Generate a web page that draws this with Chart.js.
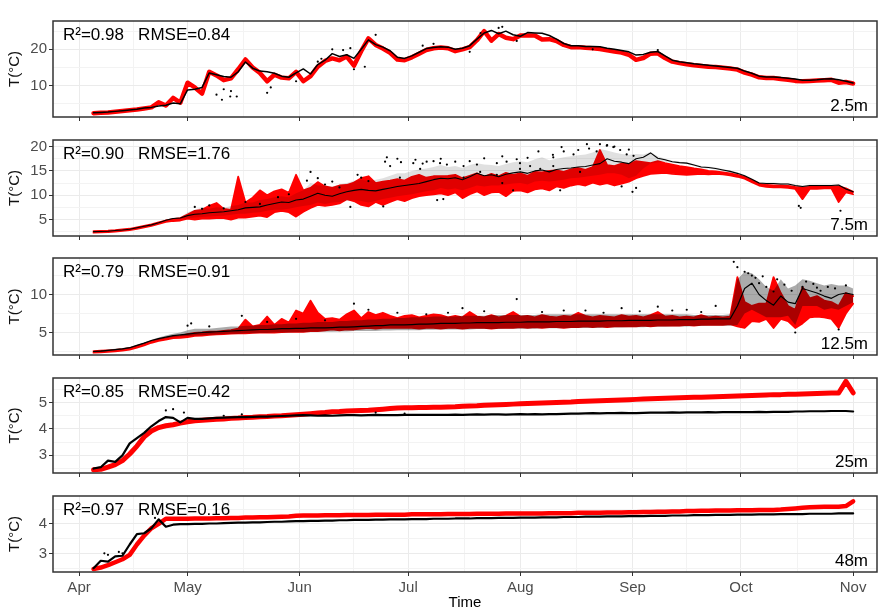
<!DOCTYPE html>
<html><head><meta charset="utf-8">
<script src="https://cdn.jsdelivr.net/npm/chart.js@4.4.1/dist/chart.umd.min.js"></script>
<style>
html,body{margin:0;padding:0;background:#fff;}
#wrap{position:relative;width:879px;height:610px;overflow:hidden;background:#fff;}
canvas{position:absolute;left:0;}
</style></head><body><div id="wrap"></div>
<script>
// x positions: day of season (0 = 1 Apr)
const sampleDays = [4,6,8,10,12,14,16,18,20,22,
  24,26,28,30,32,34,36,38,40,42,
  44,46,48,50,52,54,56,58,60,62,
  64,66,68,70,72,74,76,78,80,82,
  84,86,88,90,92,94,96,98,100,102,
  104,106,108,110,112,114,116,118,120,122,
  124,126,128,130,132,134,136,138,140,142,
  144,146,148,150,152,154,156,158,160,162,
  164,166,168,170,172,174,176,178,180,182,
  184,186,188,190,192,194,196,198,200,202,
  204,206,208,210,212,214];
const monthDays = [0,30,61,91,122,153,183,214];
const monthLabels = ['Apr','May','Jun','Jul','Aug','Sep','Oct','Nov'];
const depthLabels = ['2.5m','7.5m','12.5m','25m','48m'];
const statLabels = ['R²=0.98   RMSE=0.84','R²=0.90   RMSE=1.76','R²=0.79   RMSE=0.91','R²=0.85   RMSE=0.42','R²=0.97   RMSE=0.16'];

// ---- 2.5 m
const p1Obs = [2.5,2.6,2.7,2.9,3.1,3.3,3.5,3.8,4.0,4.4,
  4.6,5.2,5.0,8.8,9.0,9.5,13.5,13.0,12.5,12.3,
  13.8,16.5,14.8,14.0,13.8,13.4,12.6,12.3,13.5,14.6,
  13.2,15.8,17.0,18.8,18.0,18.5,17.5,20.0,22.6,21.3,
  20.6,19.6,17.8,17.5,18.2,19.2,20.2,20.5,20.7,20.6,
  20.0,20.3,21.0,22.8,24.5,25.2,24.3,25.0,24.0,23.6,
  24.6,24.5,24.4,23.8,22.8,21.6,21.0,21.0,20.8,20.8,
  20.7,20.3,20.0,19.7,19.3,18.4,18.6,19.2,19.4,18.2,
  17.0,16.6,16.3,16.0,15.8,15.6,15.4,15.2,15.0,14.8,
  14.0,13.4,12.6,12.4,12.4,12.2,12.0,11.8,11.5,11.5,
  11.6,11.8,11.9,11.6,11.2,10.7];
const p1Mod = [2.4,2.5,2.6,2.8,3.0,3.2,3.4,3.7,4.0,5.4,
  4.5,6.6,5.3,10.8,9.5,7.8,13.8,12.8,11.5,12.0,
  14.5,17.2,15.0,13.5,11.2,13.0,12.2,12.0,13.8,11.2,
  12.6,15.2,16.8,17.5,17.0,18.0,15.5,19.5,23.0,21.2,
  20.2,19.0,17.2,17.0,17.8,18.8,19.8,20.3,20.5,20.3,
  19.5,20.0,20.6,22.5,25.0,22.4,24.2,23.2,22.8,23.8,
  23.8,23.8,22.7,22.8,22.3,21.2,20.6,20.6,20.4,20.3,
  20.1,19.7,19.4,19.1,18.5,17.1,17.6,18.8,18.9,17.6,
  16.6,16.2,15.9,15.6,15.4,15.2,15.1,14.9,14.7,14.4,
  13.6,13.0,12.3,12.1,12.1,11.8,11.6,11.3,11.2,11.3,
  11.4,11.5,11.6,10.8,11.0,10.6];
const p1Dots = [[38,7.5],[39.5,6.1],[40,9.0],[41.8,7.0],[42,8.5],[43.6,7.0],[52,8.0],[53,9.5],[60,11.2],[66,16.6],[67,17.4],[70,20.0],[73,19.8],[75,20.3],[76,14.5],[79,15.2],[82,24.0],[95,21.0],[98,21.5],[108,19.3],[111,24.5],[116,25.9],[117,26.2],[121,22.3],[142,20.0],[160,19.8]];

// ---- 7.5 m
const p2Obs = [2.5,2.55,2.6,2.75,2.85,3.0,3.3,3.6,3.9,4.35,
  4.85,5.2,5.3,5.8,6.1,6.2,6.4,6.5,6.6,6.8,
  7.0,7.4,7.5,7.6,8.0,8.3,8.6,8.5,9.0,9.2,
  9.8,10.4,10.0,9.8,10.3,10.7,11.0,11.2,11.0,10.9,
  11.2,11.5,11.8,12.0,12.2,12.4,12.8,13.2,13.5,13.4,
  13.6,13.2,13.8,14.5,14.0,14.2,13.8,14.3,14.6,14.8,
  14.5,15.0,15.2,14.8,15.3,15.5,15.6,15.8,15.9,16.2,
  16.5,17.5,17.0,16.8,16.5,17.5,17.8,18.7,17.6,17.3,
  16.9,16.7,16.6,16.2,15.8,15.7,15.5,15.2,14.9,14.5,
  14.0,13.3,12.5,12.4,12.4,12.3,12.3,12.0,11.8,12.0,
  12.0,12.0,12.0,12.1,11.3,10.7];
const p2ObsHi = [2.65,2.7,2.75,2.9,3.0,3.15,3.45,3.75,4.05,4.5,
  5.0,5.35,5.45,6.5,7.0,7.5,7.2,7.5,7.4,7.8,
  8.0,8.5,8.5,9.0,9.2,9.6,9.8,9.6,10.4,11.0,
  12.5,12.0,12.0,11.8,12.2,12.5,13.0,13.2,13.0,13.2,
  13.5,14.0,14.5,14.5,15.0,15.3,15.5,15.8,16.2,15.8,
  16.0,15.6,16.2,16.6,16.3,16.2,16.0,16.4,16.8,17.0,
  16.8,17.4,17.8,17.2,17.5,17.8,18.0,18.2,18.4,18.8,
  19.5,19.2,18.8,18.5,18.3,18.5,18.4,18.9,18.0,17.5,
  17.1,16.9,16.8,16.4,16.0,15.9,15.7,15.4,15.1,14.7,
  14.2,13.5,12.7,12.6,12.6,12.5,12.5,12.2,12.0,12.2,
  12.2,12.2,12.2,12.3,11.5,10.9];
const p2ObsLo = [2.35,2.4,2.45,2.6,2.7,2.85,3.15,3.45,3.75,4.2,
  4.7,5.05,5.15,5.2,5.4,5.5,5.6,5.7,5.8,6.0,
  6.2,6.2,6.4,6.5,6.8,7.0,7.0,7.2,7.5,7.8,
  8.0,8.5,8.2,8.5,8.6,8.8,9.0,8.8,8.5,8.8,
  9.2,9.5,9.8,10.0,10.2,10.5,10.8,11.0,11.5,11.2,
  11.4,11.0,11.5,12.0,11.8,12.0,12.0,12.2,12.4,12.5,
  12.2,12.8,13.0,12.8,13.0,13.2,13.5,13.6,13.8,14.0,
  14.2,14.5,14.5,14.2,13.5,14.0,15.5,16.5,16.8,16.9,
  16.7,16.5,16.4,16.0,15.6,15.5,15.3,15.0,14.7,14.3,
  13.8,13.1,12.3,12.2,12.2,12.1,12.1,11.8,11.6,11.8,
  11.8,11.8,11.8,11.9,11.1,10.5];
const p2ModHi = [2.6,2.65,2.7,2.8,2.95,3.1,3.4,3.7,4.0,4.4,
  4.8,5.1,5.3,6.0,6.8,7.0,7.8,8.4,7.2,7.0,
  13.8,8.5,9.5,11.0,10.0,10.8,11.2,10.5,14.2,11.0,
  11.5,12.7,11.8,11.5,12.0,12.1,12.6,13.5,13.9,12.5,
  12.8,13.0,13.3,13.0,13.8,14.2,13.6,13.9,13.9,14.0,
  14.2,13.5,14.0,14.5,13.8,14.4,13.9,14.6,14.2,14.5,
  14.0,14.8,14.7,15.0,15.1,14.8,15.3,15.6,15.2,15.8,
  19.3,16.2,16.0,16.5,16.4,17.0,16.8,16.6,17.0,16.6,
  16.3,16.0,15.8,15.5,15.3,15.0,14.9,14.7,14.5,14.2,
  13.8,13.1,12.4,12.1,12.0,12.0,11.9,11.7,11.6,11.7,
  11.7,11.8,11.8,11.8,11.4,10.7];
const p2ModLo = [2.3,2.35,2.4,2.5,2.65,2.8,3.1,3.4,3.7,4.1,
  4.5,4.7,4.8,5.2,5.0,5.2,5.2,5.3,5.3,5.0,
  5.4,5.4,5.6,5.8,5.5,6.5,6.8,6.5,5.6,6.6,
  7.4,8.0,7.8,8.0,8.3,9.2,8.8,8.0,7.7,8.6,
  8.0,8.6,9.2,8.8,9.4,9.8,10.0,10.2,10.4,10.0,
  10.6,9.4,10.2,10.8,10.0,10.6,10.7,9.8,10.9,11.0,
  10.6,11.2,11.4,11.0,11.8,11.5,12.0,12.3,12.0,12.6,
  12.2,12.5,12.0,12.4,12.8,13.5,14.0,14.4,14.5,14.6,
  14.4,14.3,14.2,14.3,14.4,14.3,14.4,14.3,14.1,13.8,
  13.4,12.7,12.0,11.7,11.6,11.6,11.5,11.3,9.2,11.3,
  11.3,11.4,11.4,8.6,10.6,10.2];
const p2Dots = [[32,7.6],[34,7.2],[36,7.9],[40,7.3],[46,8.6],[50,8.2],[55,9.6],[58,10.2],[63,13.0],[64,14.8],[66,13.5],[68,12.2],[70,12.8],[72,11.6],[75,7.6],[77,14.2],[78,13.6],[80,12.9],[84.1,7.7],[84.6,16.9],[85.1,17.8],[86,16.0],[88,17.5],[88.7,13.6],[89,16.8],[92.4,16.6],[93,17.3],[94.3,15.4],[95,16.5],[96.1,16.9],[98,17.0],[99,9.0],[99.8,16.6],[100,17.5],[100.7,9.2],[101.7,16.3],[104,16.9],[106.3,16.0],[106.3,13.6],[108,17.0],[110,16.3],[110.9,14.8],[112,17.6],[115.5,16.6],[115.5,14.2],[117,18.0],[117,12.5],[118.2,16.9],[120,11.0],[121,17.4],[121.9,16.6],[121.9,15.4],[124,17.7],[124.7,16.0],[127,19.0],[127.5,15.4],[131,18.3],[131.1,17.8],[131.1,16.0],[133,11.0],[133.4,19.9],[134,19.0],[136.7,18.4],[138,19.3],[138.5,14.8],[140.4,20.5],[141,19.6],[143.1,19.0],[144,20.5],[145.9,20.2],[146,20.3],[147.7,19.9],[148,20.0],[149.6,19.3],[150,11.8],[151.4,18.4],[152,19.4],[153,10.7],[153.3,18.1],[154,11.5],[199,7.8],[199.5,7.4],[210.5,6.8]];

// ---- 12.5 m
const p3Obs = [2.5,2.55,2.65,2.75,2.85,3.0,3.3,3.6,3.95,4.2,
  4.4,4.6,4.7,4.8,4.9,5.0,5.05,5.1,5.15,5.2,
  5.25,5.3,5.35,5.4,5.4,5.45,5.5,5.5,5.55,5.55,
  5.6,5.6,5.6,5.65,5.7,5.7,5.75,5.8,5.85,5.9,
  5.9,6.0,6.0,6.0,6.05,6.1,6.1,6.15,6.2,6.2,
  6.2,6.25,6.25,6.3,6.3,6.3,6.3,6.35,6.35,6.35,
  6.4,6.4,6.4,6.4,6.45,6.45,6.45,6.5,6.5,6.5,
  6.5,6.55,6.55,6.55,6.6,6.6,6.6,6.6,6.65,6.65,
  6.65,6.7,6.7,6.7,6.75,6.75,6.8,6.8,6.8,8.5,
  10.8,11.5,10.0,9.2,8.6,9.8,9.0,8.8,10.8,10.5,
  10.2,9.8,9.5,10.0,10.2,10.0];
const p3ObsHi = [2.6,2.65,2.75,2.85,2.95,3.1,3.4,3.7,4.05,4.35,
  4.6,4.85,5.0,5.3,5.5,5.5,5.5,5.6,5.7,5.8,
  5.8,5.9,5.9,6.0,6.0,6.1,6.1,6.2,6.2,6.3,
  6.3,6.4,6.4,6.4,6.5,6.5,6.6,6.6,6.7,6.7,
  6.8,6.8,6.9,6.9,7.0,7.0,7.0,7.1,7.1,7.1,
  7.1,7.2,7.2,7.2,7.2,7.3,7.3,7.3,7.3,7.3,
  7.3,7.3,7.4,7.4,7.4,7.4,7.4,7.4,7.4,7.4,
  7.4,7.4,7.4,7.4,7.4,7.4,7.4,7.4,7.4,7.4,
  7.4,7.4,7.4,7.3,7.3,7.3,7.3,7.3,7.4,12.0,
  13.0,12.8,12.0,11.0,10.5,12.0,10.8,11.2,12.0,11.8,
  11.5,11.2,11.4,11.2,11.2,10.8];
const p3ObsLo = [2.4,2.45,2.55,2.65,2.75,2.9,3.2,3.5,3.85,4.05,
  4.25,4.4,4.5,4.55,4.6,4.65,4.7,4.75,4.8,4.85,
  4.85,4.9,4.9,4.95,4.95,5.0,5.0,5.0,5.05,5.05,
  5.1,5.1,5.1,5.1,5.15,5.15,5.2,5.2,5.2,5.2,
  5.25,5.25,5.3,5.3,5.3,5.3,5.35,5.35,5.4,5.4,
  5.4,5.4,5.4,5.45,5.45,5.45,5.45,5.5,5.5,5.5,
  5.5,5.5,5.55,5.55,5.55,5.55,5.6,5.6,5.6,5.6,
  5.6,5.65,5.65,5.65,5.7,5.7,5.7,5.75,5.75,5.75,
  5.8,5.8,5.8,5.85,5.85,5.9,5.9,5.9,5.9,6.0,
  7.5,8.0,7.5,7.0,7.0,7.0,7.2,6.0,8.5,8.5,
  8.5,8.0,8.2,8.0,8.5,9.0];
const p3ModHi = [2.55,2.6,2.65,2.72,2.82,2.95,3.2,3.5,3.85,4.1,
  4.25,4.45,4.55,4.8,4.95,5.0,5.1,5.1,5.2,5.3,
  5.5,6.7,5.8,6.0,7.1,6.0,6.8,6.3,7.9,7.5,
  9.2,7.6,6.8,6.9,6.7,7.4,7.9,6.9,7.7,7.3,
  7.6,7.2,6.9,7.2,7.3,7.0,7.2,7.4,7.3,7.0,
  7.2,7.0,7.7,7.1,7.0,7.3,7.0,7.2,7.7,7.1,
  7.2,7.0,7.3,7.1,7.0,7.2,7.1,7.6,7.2,7.0,
  7.2,7.1,7.0,7.3,7.1,7.2,7.0,7.3,7.7,7.1,
  7.2,7.0,7.1,7.0,7.3,7.0,7.1,7.0,7.1,12.3,
  9.0,8.5,8.8,8.8,12.3,10.2,8.5,8.0,11.0,9.5,
  9.8,9.2,9.0,8.5,10.2,9.8];
const p3ModLo = [2.35,2.4,2.45,2.52,2.62,2.75,3.0,3.3,3.65,3.9,
  4.05,4.25,4.3,4.4,4.55,4.6,4.7,4.75,4.8,4.85,
  4.9,4.9,4.95,5.0,5.0,5.0,5.05,5.1,5.1,5.1,
  5.2,5.2,5.3,5.4,5.3,5.4,5.4,5.5,5.6,5.5,
  5.6,5.6,5.6,5.6,5.6,5.5,5.6,5.6,5.5,5.6,
  5.6,5.5,5.6,5.6,5.6,5.5,5.6,5.6,5.6,5.7,
  5.6,5.7,5.6,5.7,5.7,5.6,5.7,5.7,5.8,5.7,
  5.8,5.7,5.8,5.8,5.8,5.8,5.9,5.8,5.9,5.9,
  5.9,5.9,6.0,5.9,6.0,6.0,6.0,6.0,6.1,5.8,
  5.6,6.5,6.4,6.8,5.6,6.8,6.5,5.6,6.2,7.0,
  7.1,7.0,6.8,5.6,7.5,8.8];
const p3Dots = [[30,5.9],[31,6.2],[36,5.8],[45,7.2],[52,6.4],[60,6.8],[68,6.6],[76,8.8],[80,8.0],[88,7.6],[96,7.4],[102,7.6],[106,8.2],[112,7.8],[121,9.4],[128,7.7],[134,7.9],[140,7.9],[145,7.6],[150,8.2],[155,7.8],[160,8.4],[164,7.9],[168,8.0],[172,7.7],[176,8.5],[181,14.3],[182,13.6],[184,13.0],[185,12.8],[186,12.5],[187,12.2],[188,11.5],[189,12.4],[190,11.0],[192,10.4],[193,12.0],[195,11.3],[197,10.5],[198,5.0],[200,11.0],[201,11.7],[203,11.4],[204,10.9],[205,10.5],[207,11.0],[209,10.8],[210,5.4],[212,11.2]];

// ---- 25 m
const p4Obs = [2.5,2.55,2.8,2.75,3.0,3.45,3.65,3.85,4.1,4.3,
  4.45,4.42,4.25,4.42,4.38,4.38,4.4,4.42,4.43,4.44,
  4.45,4.45,4.46,4.47,4.47,4.48,4.49,4.5,4.51,4.52,
  4.51,4.5,4.51,4.5,4.51,4.52,4.52,4.51,4.52,4.53,
  4.52,4.52,4.52,4.53,4.53,4.53,4.53,4.53,4.53,4.53,
  4.54,4.53,4.54,4.55,4.54,4.55,4.55,4.54,4.55,4.56,
  4.55,4.56,4.55,4.56,4.56,4.57,4.58,4.58,4.59,4.60,
  4.59,4.60,4.60,4.61,4.60,4.60,4.61,4.62,4.62,4.62,
  4.63,4.62,4.63,4.63,4.63,4.64,4.63,4.64,4.64,4.64,
  4.64,4.64,4.65,4.64,4.65,4.65,4.65,4.66,4.66,4.67,
  4.67,4.67,4.68,4.68,4.68,4.66];
const p4Mod = [2.45,2.47,2.55,2.65,2.8,3.05,3.35,3.7,3.92,4.05,
  4.12,4.16,4.22,4.27,4.31,4.33,4.35,4.37,4.38,4.40,
  4.41,4.43,4.44,4.46,4.47,4.49,4.50,4.52,4.54,4.56,
  4.58,4.60,4.62,4.65,4.66,4.68,4.69,4.70,4.71,4.73,
  4.75,4.77,4.79,4.80,4.80,4.81,4.81,4.82,4.82,4.83,
  4.84,4.86,4.87,4.88,4.90,4.91,4.92,4.93,4.94,4.95,
  4.96,4.97,4.98,4.99,5.00,5.01,5.02,5.04,5.05,5.06,
  5.07,5.08,5.09,5.10,5.11,5.12,5.13,5.14,5.15,5.16,
  5.17,5.18,5.19,5.20,5.20,5.21,5.22,5.23,5.24,5.25,
  5.26,5.27,5.28,5.29,5.30,5.30,5.31,5.31,5.32,5.33,
  5.34,5.35,5.36,5.36,5.80,5.37];
const p4Dots = [[24,4.7],[26,4.75],[29,4.62],[40,4.5],[45,4.55],[82,4.62],[90,4.58]];

// ---- 48 m
const p5Obs = [2.5,2.75,2.72,2.9,2.92,3.3,3.65,3.68,3.85,4.15,
  3.9,3.97,3.99,3.99,4.0,4.0,4.01,4.01,4.02,4.03,
  4.04,4.04,4.05,4.05,4.06,4.07,4.07,4.08,4.09,4.09,
  4.10,4.10,4.11,4.11,4.12,4.12,4.13,4.13,4.13,4.14,
  4.14,4.15,4.15,4.15,4.16,4.16,4.16,4.17,4.17,4.17,
  4.18,4.18,4.18,4.19,4.19,4.19,4.20,4.20,4.20,4.21,
  4.21,4.21,4.22,4.22,4.22,4.23,4.23,4.23,4.24,4.24,
  4.24,4.25,4.25,4.25,4.26,4.26,4.26,4.27,4.27,4.27,
  4.28,4.28,4.28,4.29,4.29,4.29,4.30,4.30,4.30,4.31,
  4.31,4.31,4.32,4.32,4.32,4.33,4.33,4.33,4.33,4.34,
  4.34,4.34,4.34,4.35,4.35,4.35];
const p5Mod = [2.47,2.52,2.6,2.7,2.8,2.95,3.3,3.6,3.85,4.0,
  4.17,4.17,4.17,4.17,4.18,4.18,4.18,4.19,4.19,4.20,
  4.20,4.21,4.21,4.22,4.22,4.23,4.24,4.25,4.27,4.28,
  4.28,4.28,4.29,4.29,4.29,4.30,4.30,4.30,4.30,4.31,
  4.31,4.31,4.31,4.31,4.32,4.32,4.32,4.32,4.32,4.33,
  4.33,4.33,4.33,4.34,4.34,4.34,4.34,4.35,4.35,4.35,
  4.35,4.35,4.35,4.36,4.36,4.36,4.36,4.37,4.37,4.37,
  4.37,4.38,4.38,4.38,4.39,4.39,4.40,4.40,4.41,4.41,
  4.42,4.42,4.43,4.43,4.44,4.44,4.45,4.45,4.45,4.46,
  4.46,4.46,4.47,4.47,4.47,4.48,4.50,4.52,4.54,4.56,
  4.57,4.58,4.58,4.58,4.60,4.76];
const p5Dots = [[7,3.0],[8,2.95],[11,3.05],[12,3.0],[21,4.2]];

// y-axis breaks per panel
const yMajor = [[10,20],[5,10,15,20],[5,10],[3,4,5],[3,4]];
const yMinor = [[5,15,25],[2.5,7.5,12.5,17.5],[2.5,7.5,12.5],[2.5,3.5,4.5,5.5],[2.5,3.5,4.5]];
const yRange = [[1.35,27.8],[1.61,21.36],[2.04,14.81],[2.33,5.93],[2.37,4.94]];

// ---------- layout ----------
const panelBox = [[13,123],[132,242],[250,361],[370,479],[488,572]];
const X_MIN = -7.2, X_MAX = 220.6;
const FONT = '"Liberation Sans", Arial, Helvetica, sans-serif';
const RED = '#FF0000';

function lineData(v){ return sampleDays.map((d,i)=>({x:d,y:v[i]})); }
function pairData(p){ return p.map(q=>({x:q[0],y:q[1]})); }
function mkTicks(major, minor){
  return major.map(v=>({value:v,isMajor:true})).concat(minor.map(v=>({value:v,isMajor:false}))).sort((a,b)=>a.value-b.value);
}
const xMinor = monthDays.slice(0,-1).map((d,i)=>(d+monthDays[i+1])/2);

function lineDS(v, color, w, extra){
  return Object.assign({type:'line', data:lineData(v), borderColor:color, backgroundColor:color, borderWidth:w,
    pointRadius:0, tension:0, fill:false, borderJoinStyle:'round', borderCapStyle:'round'}, extra||{});
}
function dotDS(p){
  return {type:'line', data:pairData(p), showLine:false, pointRadius:1.1, pointBorderWidth:0,
    pointBackgroundColor:'#000', borderColor:'#000', backgroundColor:'#000'};
}

const panelSets = [
  [dotDS(p1Dots), lineDS(p1Obs,'#000',1.5), lineDS(p1Mod,RED,4.5)],
  [dotDS(p2Dots), lineDS(p2Obs,'#000',1.1),
   lineDS(p2ObsHi,'rgba(0,0,0,0)',0,{fill:{target:3},backgroundColor:'rgba(0,0,0,0.12)'}),
   lineDS(p2ObsLo,'rgba(0,0,0,0)',0),
   lineDS(p2ModHi,RED,1.8,{fill:{target:5},backgroundColor:RED}),
   lineDS(p2ModLo,RED,1.8)],
  [dotDS(p3Dots), lineDS(p3Obs,'#000',1.2),
   lineDS(p3ObsHi,'rgba(0,0,0,0)',0,{fill:{target:3},backgroundColor:'rgba(0,0,0,0.33)'}),
   lineDS(p3ObsLo,'rgba(0,0,0,0)',0),
   lineDS(p3ModHi,RED,1.8,{fill:{target:5},backgroundColor:RED}),
   lineDS(p3ModLo,RED,1.8)],
  [dotDS(p4Dots), lineDS(p4Obs,'#000',2.2), lineDS(p4Mod,RED,5)],
  [dotDS(p5Dots), lineDS(p5Obs,'#000',2.2), lineDS(p5Mod,RED,4.5)]
];

const framePlugin = {
  id:'frame',
  afterDraw(chart, args, opts){
    const {ctx, chartArea:a} = chart;
    ctx.save();
    ctx.strokeStyle = '#333'; ctx.lineWidth = 1.5;
    ctx.strokeRect(a.left, a.top, a.right-a.left, a.bottom-a.top);
    ctx.fillStyle = '#000';
    ctx.font = '17px ' + FONT;
    ctx.textBaseline = 'alphabetic';
    ctx.textAlign = 'left';
    ctx.fillText(opts.stat, a.left + 10, a.top + 19);
    ctx.textAlign = 'right';
    ctx.fillText(opts.depth, a.right - 9, a.bottom - 6);
    ctx.restore();
  }
};

const wrap = document.getElementById('wrap');
panelBox.forEach((box, k) => {
  const last = k === panelBox.length - 1;
  const axisH = last ? 610 - box[1] : 5;
  const cTop = box[0] - 3;
  const cH = (box[1] - box[0]) + 3 + axisH;
  const cv = document.createElement('canvas');
  cv.width = 879; cv.height = cH;
  cv.style.top = cTop + 'px'; cv.style.width = '879px'; cv.style.height = cH + 'px';
  wrap.appendChild(cv);
  new Chart(cv, {
    type:'line',
    data:{datasets: panelSets[k]},
    plugins:[framePlugin],
    options:{
      responsive:false, animation:false, devicePixelRatio:1, events:[],
      layout:{padding:{top:3,right:2,bottom:0,left:0}, autoPadding:false},
      plugins:{legend:{display:false}, tooltip:{enabled:false},
        frame:{stat: statLabels[k], depth: depthLabels[k]}},
      scales:{
        x:{type:'linear', min:X_MIN, max:X_MAX, position:'bottom',
          afterBuildTicks: s => { s.ticks = mkTicks(monthDays, xMinor); },
          afterFit: s => { s.height = axisH; },
          border:{display:false},
          grid:{drawTicks:true, tickLength:4,
            color: c => (c.tick && c.tick.isMajor) ? '#EBEBEB' : '#F3F3F3',
            lineWidth: 1,
            tickColor: c => (c.tick && c.tick.isMajor) ? '#333' : 'rgba(0,0,0,0)'},
          ticks:{display:last, autoSkip:false, maxRotation:0, padding:3, color:'#4D4D4D',
            font:{family:FONT, size:15},
            callback:(v,i,t) => t[i] && t[i].isMajor ? monthLabels[monthDays.indexOf(v)] : ''},
          title:{display:last, text:'Time', color:'#000', font:{family:FONT, size:15, lineHeight:1}, padding:{top:0,bottom:0}}
        },
        y:{type:'linear', min:yRange[k][0], max:yRange[k][1],
          afterBuildTicks: s => { s.ticks = mkTicks(yMajor[k], yMinor[k]); },
          afterFit: s => { s.width = 53; },
          border:{display:false},
          grid:{drawTicks:true, tickLength:4,
            color: c => (c.tick && c.tick.isMajor) ? '#EBEBEB' : '#F3F3F3',
            lineWidth: 1,
            tickColor: c => (c.tick && c.tick.isMajor) ? '#333' : 'rgba(0,0,0,0)'},
          ticks:{autoSkip:false, padding:2, color:'#4D4D4D', font:{family:FONT, size:15},
            callback:(v,i,t) => t[i] && t[i].isMajor ? String(v) : ''},
          title:{display:true, text:'T(°C)', color:'#111', font:{family:FONT, size:15}, padding:{top:6,bottom:0}}
        }
      }
    }
  });
});
</script></body></html>
